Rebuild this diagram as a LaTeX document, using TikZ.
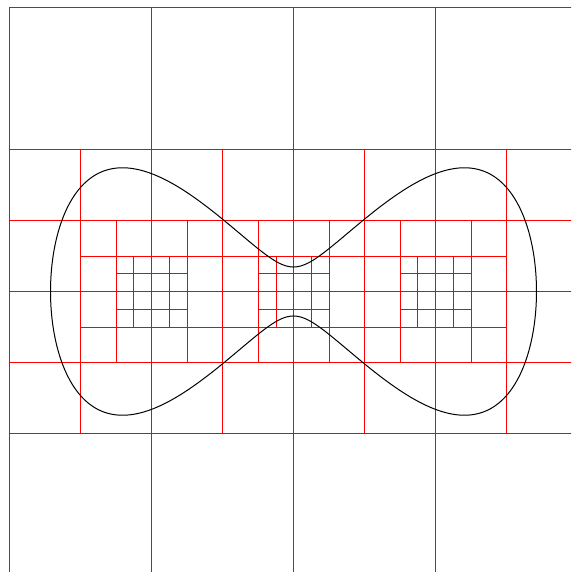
\documentclass[tikz,border=0pt]{standalone}
\begin{document}
\begin{tikzpicture}[x=1pt,y=-1pt,
  gridline/.style={draw={rgb,255:red,255;green,0;blue,0}, line width=1pt},
  curveline/.style={black, line width=1pt}]
\useasboundingbox (0,0) rectangle (571,572);
\clip (0,0) rectangle (571,572);
\begin{scope}[shift={(0.5,0.5)}]
% level 1
\foreach \x in {9,151,293,435,577} \draw[gridline] (\x,7) -- (\x,575);
\foreach \y in {7,149,291,433,575} \draw[gridline] (9,\y) -- (577,\y);
% level 2
\foreach \x in {80,222,364,506} \draw[gridline] (\x,149) -- (\x,433);
\foreach \y in {220,362} \draw[gridline] (9,\y) -- (577,\y);
% level 3
\foreach \x in {115.5,186.5,257.5,328.5,399.5,470.5} \draw[gridline] (\x,220) -- (\x,362);
\foreach \y in {255.5,326.5} \draw[gridline] (80,\y) -- (506,\y);
% level 4
\foreach \x in {133.25,168.75,275.75,310.75,417.25,452.75} \draw[gridline] (\x,255.5) -- (\x,326.5);
\foreach \a/\b in {115.5/186.5,257.5/328.5,399.5/470.5}
  \foreach \y in {273.25,308.75} \draw[gridline] (\a,\y) -- (\b,\y);
% curve  y^2 = k (x^2 + c)(1 - x^2)
\begin{scope}[shift={(293,291)}, yscale=-1]
\draw[curveline] plot[smooth cycle, domain=0:358.2, samples=200, variable=\t]
  ({243*sin(\t)}, {243*cos(\t)*sqrt(1.017*(sin(\t)*sin(\t)+0.00995))});
\end{scope}
\end{scope}
\end{tikzpicture}
\end{document}
